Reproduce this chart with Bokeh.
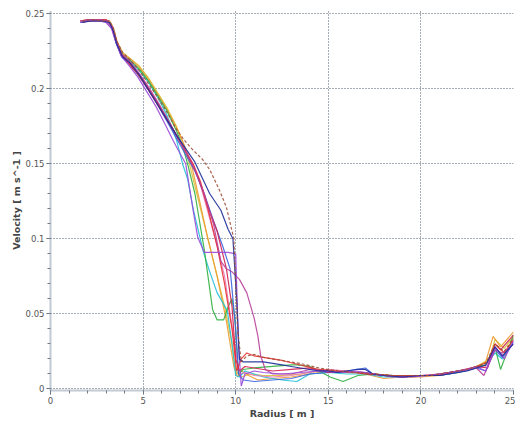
from bokeh.plotting import figure
from bokeh.models import FixedTicker, Range1d
from bokeh.embed import file_html
from bokeh.resources import INLINE

# ---- data (radius [m], velocity [m s^-1]) ----
r_navy = [1.7,2.2,2.8,3.2,3.4,3.6,3.9,4.3,4.8,5.3,5.8,6.3,6.8,7.3,7.8,8.1,8.6,9.2,9.6,9.85,10.05,10.2,10.4,11.0,11.5,12.0,12.5,13.0,13.5,14.0,14.5,15.0,15.5,16.0,16.5,17.0,17.4,18.0,19.0,20.0,21.0,22.0,22.5,23.0,23.5,24.0,24.4,25.0]
v_navy = [.244,.245,.245,.244,.238,.229,.221,.217,.209,.199,.189,.179,.169,.160,.151,.143,.130,.119,.106,.100,.060,.020,.018,.018,.018,.017,.016,.015,.014,.013,.012,.012,.011,.012,.013,.013,.010,.009,.008,.009,.009,.011,.012,.014,.016,.028,.022,.030]

r_brown = [1.7,2.2,2.8,3.2,3.4,3.6,3.9,4.3,4.8,5.3,5.8,6.3,6.8,7.2,7.7,8.2,8.6,9.1,9.5,9.9,10.1,10.3,10.6,11.0,11.5,12.5,13.5,14.5,15.5,16.5,17.5,18.5,19.5,20.5,21.5,22.5,23.0,23.5,24.0,24.5,25.0]
v_brown = [.245,.246,.245,.245,.240,.231,.224,.219,.212,.203,.194,.184,.173,.166,.159,.153,.146,.133,.121,.100,.040,.018,.022,.023,.021,.019,.017,.014,.012,.011,.010,.009,.009,.009,.011,.013,.015,.017,.030,.025,.034]

r_purple = [1.6,2.0,2.6,3.0,3.3,3.5,3.8,4.2,4.7,5.2,5.7,6.2,6.6,6.9,7.3,7.7,7.95,8.3,9.0,9.6,10.0,10.15,10.3,10.5,11.0,11.5,12.5,13.5,14.5,15.5,16.5,17.5,18.5,19.5,20.5,21.5,22.5,23.0,23.5,24.0,24.5,25.0]
v_purple = [.244,.245,.245,.244,.240,.232,.222,.216,.208,.198,.188,.176,.166,.159,.150,.119,.101,.091,.091,.091,.090,.030,.002,.010,.012,.011,.010,.011,.012,.011,.012,.010,.008,.008,.009,.011,.013,.015,.012,.028,.020,.032]

r_magenta = [1.6,2.1,2.7,3.1,3.35,3.55,3.85,4.3,4.8,5.3,5.8,6.3,6.8,7.3,7.8,8.3,8.8,9.2,9.5,9.8,10.2,10.6,11.0,11.2,11.35,11.6,12.0,13.0,14.0,15.0,16.0,17.0,18.0,19.0,20.0,21.0,22.0,23.0,23.4,24.0,24.4,25.0]
v_magenta = [.245,.246,.246,.245,.241,.232,.223,.218,.210,.201,.191,.180,.169,.158,.146,.130,.110,.085,.080,.078,.073,.064,.047,.035,.022,.013,.010,.010,.013,.012,.011,.011,.009,.008,.009,.010,.012,.014,.009,.026,.024,.030]

r_green = [1.7,2.2,2.8,3.2,3.4,3.6,3.9,4.3,4.8,5.3,5.8,6.3,6.8,7.1,7.4,7.8,8.3,8.55,8.75,9.0,9.35,9.6,9.8,9.95,10.15,10.4,11.0,12.0,13.0,13.3,14.0,14.5,15.1,15.8,16.6,17.5,18.5,19.5,20.5,21.5,22.5,23.0,23.5,24.0,24.3,25.0]
v_green = [.245,.246,.245,.244,.239,.230,.222,.219,.213,.205,.195,.185,.172,.163,.150,.130,.093,.071,.053,.046,.046,.055,.060,.048,.010,.013,.014,.015,.016,.016,.015,.012,.008,.005,.009,.010,.009,.009,.009,.011,.013,.015,.016,.028,.013,.036]

r_cyan = [1.6,2.1,2.7,3.1,3.35,3.55,3.85,4.3,4.8,5.3,5.8,6.3,6.8,7.13,7.4,7.72,8.26,8.6,9.0,9.55,9.8,10.0,10.2,10.5,11.0,11.5,12.5,13.3,14.0,15.0,16.0,17.0,18.0,19.0,20.0,21.0,22.0,23.0,23.5,24.0,24.4,25.0]
v_cyan = [.244,.245,.245,.244,.239,.230,.222,.218,.212,.204,.194,.182,.166,.150,.140,.119,.091,.078,.064,.052,.030,.009,.008,.012,.010,.008,.006,.005,.010,.011,.010,.010,.008,.008,.009,.009,.011,.014,.016,.024,.020,.033]

r_orange = [1.7,2.2,2.8,3.2,3.4,3.6,3.9,4.3,4.8,5.3,5.8,6.3,6.8,7.3,7.6,8.0,8.5,9.0,9.5,9.9,10.1,10.3,10.7,11.2,12.0,13.0,14.0,15.0,16.0,17.0,18.0,19.0,20.0,21.0,22.0,23.0,23.5,23.9,24.3,25.0]
v_orange = [.245,.245,.246,.245,.240,.231,.223,.220,.214,.206,.196,.186,.174,.160,.150,.128,.100,.075,.045,.015,.008,.012,.009,.006,.007,.008,.010,.012,.011,.010,.007,.008,.008,.009,.011,.014,.018,.035,.028,.038]

r_red = [1.6,2.0,2.6,3.0,3.3,3.5,3.8,4.2,4.7,5.2,5.7,6.2,6.7,7.2,7.7,8.1,8.5,9.0,9.4,9.8,10.05,10.3,10.6,11.0,11.5,12.5,13.5,14.5,15.5,16.5,17.5,18.5,19.5,20.5,21.5,22.5,23.0,23.6,24.0,24.5,25.0]
v_red = [.245,.246,.246,.246,.242,.233,.223,.217,.210,.201,.191,.181,.171,.160,.150,.138,.120,.095,.070,.040,.012,.020,.024,.022,.021,.019,.016,.013,.012,.011,.010,.009,.009,.009,.011,.013,.015,.018,.030,.024,.033]

r_crimson = [1.7,2.1,2.7,3.1,3.35,3.55,3.85,4.3,4.8,5.3,5.8,6.3,6.8,7.3,7.8,8.2,8.6,9.0,9.5,9.8,10.0,10.2,10.5,11.0,12.0,13.0,14.0,15.0,16.0,17.0,18.0,19.0,20.0,21.0,22.0,23.0,23.6,24.0,24.3,25.0]
v_crimson = [.244,.245,.245,.245,.241,.232,.222,.217,.209,.200,.190,.180,.169,.158,.146,.133,.118,.105,.080,.055,.020,.012,.015,.014,.012,.013,.014,.011,.012,.010,.009,.008,.009,.009,.012,.015,.014,.030,.026,.036]

r_pink = [1.6,2.0,2.6,3.0,3.3,3.5,3.8,4.2,4.7,5.2,5.7,6.2,6.7,7.2,7.6,8.0,8.5,9.0,9.4,9.7,10.0,10.2,10.5,11.0,12.0,13.0,14.0,15.0,16.0,17.0,18.0,19.0,20.0,21.0,22.0,23.0,23.5,24.0,24.5,25.0]
v_pink = [.245,.245,.246,.245,.240,.232,.223,.217,.210,.201,.192,.182,.171,.161,.152,.140,.118,.095,.075,.050,.025,.010,.011,.009,.008,.009,.011,.013,.012,.011,.009,.008,.009,.010,.012,.014,.015,.027,.022,.032]

r_yellow = [1.7,2.2,2.8,3.2,3.4,3.6,3.9,4.3,4.8,5.3,5.8,6.3,6.8,7.2,7.5,7.9,8.4,8.9,9.4,9.8,10.0,10.3,10.8,11.5,12.5,13.5,14.5,15.5,16.5,17.5,18.5,19.5,20.5,21.5,22.5,23.0,23.7,24.0,24.5,25.0]
v_yellow = [.245,.245,.245,.244,.239,.231,.224,.220,.215,.207,.197,.187,.175,.163,.150,.130,.105,.080,.055,.030,.012,.008,.010,.009,.009,.010,.012,.012,.011,.010,.008,.008,.009,.010,.013,.015,.020,.033,.027,.035]

r_royal = [1.6,2.1,2.7,3.1,3.35,3.55,3.85,4.3,4.8,5.3,5.8,6.3,6.8,7.3,7.8,8.3,8.8,9.3,9.7,10.0,10.15,10.4,11.0,12.0,13.0,14.0,15.0,16.0,17.0,17.4,18.0,19.0,20.0,21.0,22.0,23.0,23.5,24.0,24.4,25.0]
v_royal = [.244,.246,.246,.245,.240,.230,.221,.216,.208,.199,.189,.178,.167,.156,.145,.130,.112,.095,.080,.040,.010,.006,.005,.006,.007,.010,.011,.012,.014,.010,.009,.008,.009,.009,.011,.014,.012,.026,.021,.031]

x_ticks = [0, 5, 10, 15, 20, 25]
y_ticks = [0, 0.05, 0.1, 0.15, 0.2, 0.25]
y_tick_labels = ["0", "0.05", "0.1", "0.15", "0.2", "0.25"]

series = [
    (r_yellow, v_yellow, "#d6c23a", "solid"),
    (r_orange, v_orange, "#f09a30", "solid"),
    (r_cyan, v_cyan, "#22c0d8", "solid"),
    (r_green, v_green, "#2fb040", "solid"),
    (r_pink, v_pink, "#e878b8", "solid"),
    (r_royal, v_royal, "#3c64e0", "solid"),
    (r_crimson, v_crimson, "#d02050", "solid"),
    (r_red, v_red, "#e83030", "solid"),
    (r_magenta, v_magenta, "#b8409a", "solid"),
    (r_purple, v_purple, "#9a48d8", "solid"),
    (r_navy, v_navy, "#1c2f9a", "solid"),
    (r_brown, v_brown, "#a0503a", "3 2"),
]

p = figure(width=515, height=421, output_backend="svg", toolbar_location=None,
           x_range=Range1d(0, 25), y_range=Range1d(-0.001, 0.252),
           min_border_left=50, min_border_right=2, min_border_top=10, min_border_bottom=30)
p.background_fill_color = "white"
p.border_fill_color = "white"
p.outline_line_color = None

for xs, ys, col, dash in series:
    p.line(xs, ys, line_color=col, line_width=1.2, line_alpha=0.9, line_dash=dash)

p.xaxis.ticker = FixedTicker(ticks=x_ticks, minor_ticks=list(range(0, 26)))
p.yaxis.ticker = FixedTicker(ticks=y_ticks, minor_ticks=[i * 0.01 for i in range(0, 26)])
p.yaxis.major_label_overrides = {t: s for t, s in zip(y_ticks, y_tick_labels)}

for ax in (p.xaxis[0], p.yaxis[0]):
    ax.axis_line_color = "#8494a6"
    ax.axis_line_dash = "1 1"
    ax.axis_line_width = 2
    ax.major_tick_line_color = "#55606c"
    ax.minor_tick_line_color = "#707c88"
    ax.major_tick_out = 4
    ax.major_tick_in = 0
    ax.minor_tick_out = 3
    ax.minor_tick_in = 0
    ax.major_label_text_font = "DejaVu Sans"
    ax.major_label_text_font_size = "8.5px"
    ax.major_label_text_color = "#555555"
    ax.major_label_standoff = 2
    ax.axis_label_text_font = "DejaVu Sans"
    ax.axis_label_text_font_size = "9.5px"
    ax.axis_label_text_font_style = "bold"
    ax.axis_label_text_color = "#444444"
    ax.axis_label_standoff = 1

p.xaxis.axis_label = "Radius [ m ]"
p.yaxis.axis_label = "Velocity [ m s^-1 ]"

p.grid.grid_line_color = "#3c4a5a"
p.grid.grid_line_dash = "1 2"
p.grid.grid_line_width = 1
p.grid.grid_line_alpha = 0.9

open("out.html", "w").write(file_html(p, INLINE))
